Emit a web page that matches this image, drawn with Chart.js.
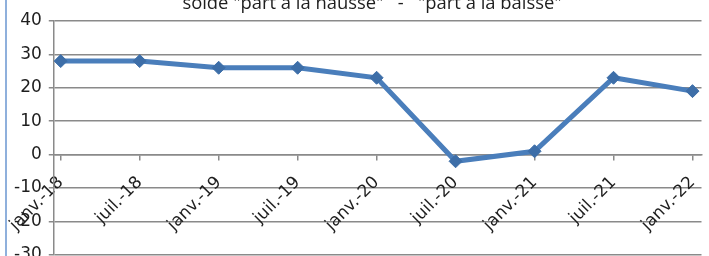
<!DOCTYPE html>
<html>
<head>
<meta charset="utf-8">
<script src="https://cdn.jsdelivr.net/npm/chart.js@4.4.1/dist/chart.umd.min.js"></script>
<style>
  html, body { margin: 0; padding: 0; background: #fff; overflow: hidden; }
  #page { position: relative; width: 709px; height: 256px; overflow: hidden; }
  #frame { position: absolute; left: 5px; top: 0; width: 2px; height: 256px; background: #8fb0dc; }
  #titre { position: absolute; left: 0; width: 744px; top: -8px; text-align: center; font-family: 'Open Sans'; font-size: 18.4px; line-height: 19px; color: #1e1e1e; white-space: pre; }
  #holder { position: absolute; left: 0; top: 0; width: 709px; height: 272px; }
</style>
</head>
<body>
<div id="page">
  <div id="frame"></div>
  <div id="holder"><canvas id="soldeChart"></canvas></div>
  <div id="titre"></div>
</div>
<script>
// semestres (x) et solde en points (y)
var periodes = ["janv.-18", "juil.-18", "janv.-19", "juil.-19", "janv.-20", "juil.-20", "janv.-21", "juil.-21", "janv.-22"];
var solde = [28, 28, 26, 26, 23, -2, 1, 23, 19];
var titre = 'solde "part à la hausse"   -   "part à la baisse"';

document.getElementById("titre").textContent = titre;

var points = [];
for (var i = 0; i < solde.length; i++) {
	points.push({x: i, y: solde[i]});
}

var ctx = document.getElementById("soldeChart").getContext("2d");
var chart = new Chart(ctx, {
	type: 'line',
	data: {
		datasets: [{
			data: points,
			borderColor: '#4a7ebb',
			borderWidth: 5,
			backgroundColor: '#3d6ea8',
			pointStyle: 'rectRot',
			pointRadius: 6.5,
			pointBorderColor: '#3d6ea8',
			pointBorderWidth: 1,
			tension: 0
		}]
	},
	options: {
		responsive: true,
		maintainAspectRatio: false,
		animation: false,
		layout: { padding: { left: 7, right: 6, top: 21, bottom: 0 } },
		plugins: {
			legend: { display: false },
			tooltip: { enabled: false }
		},
		scales: {
			x: {
				type: 'linear',
				position: { y: 0 },
				min: -0.088,
				max: 8.114,
				afterBuildTicks: function(scale) {
					scale.ticks = periodes.map(function(p, i) { return {value: i}; });
				},
				// the rotated labels hang to the left, no need to keep room on the right
				afterFit: function(scale) {
					scale.paddingRight = 0;
					scale.paddingLeft = 0;
				},
				ticks: {
					autoSkip: false,
					minRotation: 45,
					maxRotation: 45,
					color: '#1e1e1e',
					font: { family: 'DejaVu Sans', size: 17 },
					padding: 13,
					callback: function(value) { return periodes[value]; }
				},
				grid: { drawOnChartArea: false, drawTicks: true, tickLength: 5, color: '#8a8a8a', lineWidth: 1.5 },
				border: { display: true, color: '#8a8a8a', width: 1.5 }
			},
			y: {
				min: -30,
				max: 40,
				ticks: {
					stepSize: 10,
					color: '#1e1e1e',
					font: { family: 'DejaVu Sans', size: 17 },
					padding: 7
				},
				grid: { color: '#8a8a8a', lineWidth: 1.5, tickLength: 5 },
				border: { display: true, color: '#8a8a8a', width: 1.5 }
			}
		}
	}
});
</script>
</body>
</html>
